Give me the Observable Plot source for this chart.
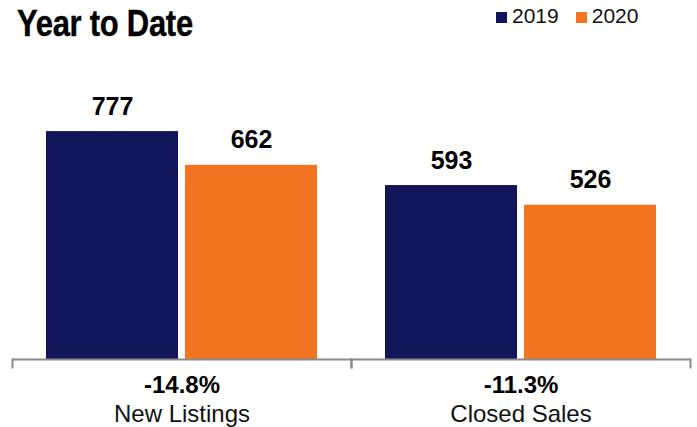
<!DOCTYPE html>
<html>
<head>
<meta charset="utf-8">
<script src="https://cdn.jsdelivr.net/npm/d3@7"></script>
<script src="https://cdn.jsdelivr.net/npm/@observablehq/plot@0.6"></script>
<style>
  html, body { margin: 0; padding: 0; background: #fff; }
  #wrap { position: relative; width: 697px; height: 427px; overflow: hidden; font-family: "Liberation Sans", Arial, sans-serif; }
  #title { position: absolute; left: 17px; top: 6px; font-family: "Liberation Sans", Arial, sans-serif; font-weight: bold; font-size: 36px; line-height: 36px; color: #000; white-space: nowrap; transform: scaleX(0.86); transform-origin: 0 0; letter-spacing: -0.3px; -webkit-text-stroke: 0.4px #000; }
  #legend { position: absolute; left: 496px; top: 5px; font-size: 21px; line-height: 21px; color: #111; white-space: nowrap; }
  .item { display: inline-block; margin-right: 17px; }
  .sw { display: inline-block; width: 11px; height: 11px; margin-right: 5px; vertical-align: 0px; }
  svg { display: block; }
</style>
</head>
<body>
<div id="wrap">
  <div id="chart"></div>
  <div id="title">Year to Date</div>
  <div id="legend"></div>
</div>
<script>
const categories = ["New Listings", "Closed Sales"];
const years = ["2019", "2020"];
const values2019 = [777, 593];
const values2020 = [662, 526];
const changes = ["-14.8%", "-11.3%"];
const colors = ["#12155a", "#f37521"];

const data = [];
categories.forEach((c, i) => {
  data.push({category: c, year: years[0], value: values2019[i]});
  data.push({category: c, year: years[1], value: values2020[i]});
});
const groups = categories.map((c, i) => ({category: c, change: changes[i]}));

const legend = document.getElementById("legend");
years.forEach((y, i) => {
  const s = document.createElement("span");
  s.className = "item";
  s.innerHTML = `<span class="sw" style="background:${colors[i]}"></span>${y}`;
  legend.appendChild(s);
});

const axisColor = "#8a8a8a";
const chart = Plot.plot({
  width: 697,
  height: 427,
  marginTop: 95,
  marginBottom: 60,
  marginLeft: 12,
  marginRight: 7,
  style: {fontFamily: "'Liberation Sans', Arial, sans-serif", background: "#fff", overflow: "visible"},
  fx: {domain: categories, padding: 0, axis: null},
  x: {domain: years, paddingInner: 0.05, paddingOuter: 0.236, axis: null},
  y: {domain: [0, 900], insetBottom: 8, axis: null},
  color: {domain: years, range: colors},
  marks: [
    Plot.barY(data, {fx: "category", x: "year", y: "value", fill: "year"}),
    Plot.ruleY([0], {stroke: axisColor, strokeWidth: 2}),
    Plot.frame({anchor: "left", stroke: axisColor, strokeWidth: 2, insetTop: 264}),
    Plot.frame({anchor: "right", stroke: axisColor, strokeWidth: 2, insetTop: 264}),
    Plot.text(data, {fx: "category", x: "year", y: "value", text: d => String(d.value), dy: -17, lineAnchor: "bottom", fontSize: 25, fontWeight: "bold", fill: "#000"}),
    Plot.text(groups, {fx: "category", text: "change", frameAnchor: "bottom", lineAnchor: "bottom", dy: 25, fontSize: 24, fontWeight: "bold", fill: "#000"}),
    Plot.text(groups, {fx: "category", text: "category", frameAnchor: "bottom", lineAnchor: "bottom", dy: 54, fontSize: 24, fill: "#111"})
  ]
});
document.getElementById("chart").appendChild(chart);
</script>
</body>
</html>
